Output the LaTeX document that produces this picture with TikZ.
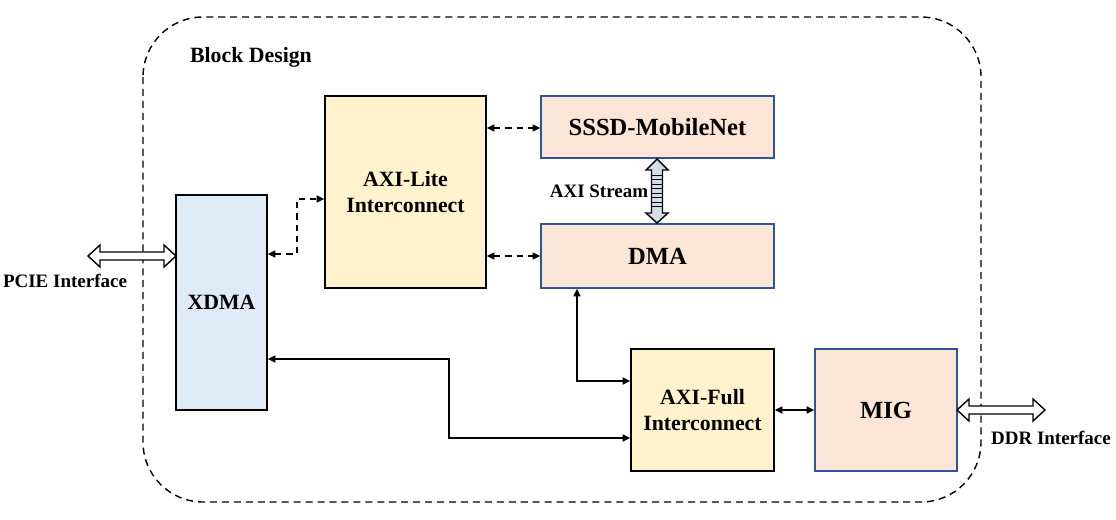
\documentclass[tikz,border=0pt]{standalone}
\usepackage{fontspec}
\setmainfont{Liberation Serif}
\usetikzlibrary{arrows.meta,calc,positioning}

\definecolor{liteyellow}{HTML}{FFF2CC}
\definecolor{peach}{HTML}{FBE5D6}
\definecolor{paleblue}{HTML}{DEEBF7}
\definecolor{edgeblue}{HTML}{2F5597}
\definecolor{streamgray}{HTML}{D6DCE5}

\begin{document}
\begin{tikzpicture}[x=0.025cm, y=-0.025cm,
    >={Triangle[length=5.5pt,width=5pt]},
    ybox/.style={draw=black, line width=1pt, fill=liteyellow, font=\bfseries\fontsize{15.5}{18}\selectfont, align=center, inner sep=0pt},
    pbox/.style={draw=edgeblue, line width=1pt, fill=peach, font=\bfseries\fontsize{17.5}{20}\selectfont, inner sep=0pt},
    bbox/.style={draw=black, line width=1pt, fill=paleblue, font=\bfseries\fontsize{15.5}{18}\selectfont, inner sep=0pt},
    lbl/.style={font=\bfseries\fontsize{13.5}{16}\selectfont, inner sep=0pt},
    dconn/.style={<->, line width=1pt, dash pattern=on 4.5pt off 3.5pt},
    sconn/.style={<->, line width=1.3pt}]
  \useasboundingbox (0,0) rectangle (1116,519);

  % Define dimensions
  \def\shaft{4}
  \def\head{11}
  \def\hlen{12}

  % Draw block design frame
  \draw[line width=1pt, dash pattern=on 5pt off 3.5pt, rounded corners=1.5cm] (143,17) rectangle (981,502);
  \node[font=\bfseries\fontsize{15.5}{18}\selectfont, inner sep=0pt] (title) at (251,57) {Block Design};

  % Draw blocks
  \node[ybox, minimum width=4.025cm, minimum height=4.8cm] (lite) at (405.5,192) {AXI-Lite\\Interconnect};
  \node[pbox, minimum width=5.825cm, minimum height=1.55cm] (sssd) at (657.5,127) {SSSD-MobileNet};
  \node[pbox, minimum width=5.825cm, minimum height=1.6cm] (dma) at (657.5,256) {DMA};
  \node[bbox, minimum width=2.275cm, minimum height=5.375cm] (xdma) at (221.5,302.5) {XDMA};
  \node[ybox, minimum width=3.575cm, minimum height=3.05cm] (full) at (702.5,410) {AXI-Full\\Interconnect};
  \node[pbox, minimum width=3.55cm, minimum height=3.05cm] (mig) at (886,410) {MIG};

  % Label interfaces
  \node[lbl] (stream) at (599,191) {AXI Stream};
  \node[lbl] (pcie) at (65,281) {PCIE Interface};
  \node[lbl] (ddr) at (1051,438) {DDR Interface};

  % Define points
  \coordinate (D1) at (297,254);
  \coordinate (D2) at (297,199);
  \coordinate (S1) at (577,381);
  \coordinate (S2) at (449,359);
  \coordinate (S3) at (449,438);

  % Draw dashed connectors
  \draw[dconn] (xdma.east |- D1) -- (D1) |- (lite.west |- D2);
  \draw[dconn] (lite.east |- 0,128) -- (sssd.west |- 0,128);
  \draw[dconn] (lite.east |- dma) -- (dma.west);

  % Draw solid connectors
  \draw[sconn] (dma.south -| S1) -- (S1) -- (full.west |- S1);
  \draw[sconn] (xdma.east |- S2) -- (S2) -- (S3) -- (full.west |- S3);
  \draw[sconn] (full.east) -- (mig.west);

  % Draw hollow interface arrows
  \draw[line width=1pt, fill=white] (88,256) -- ++(\hlen,-\head) -- ++(0,\head-\shaft) -- (176-\hlen,256-\shaft)
    -- ++(0,\shaft-\head) -- (176,256) -- ++(-\hlen,\head) -- ++(0,\shaft-\head) -- (88+\hlen,256+\shaft)
    -- ++(0,\head-\shaft) -- cycle;
  \draw[line width=1pt, fill=white] (957,410) -- ++(\hlen,-\head) -- ++(0,\head-\shaft) -- (1045-\hlen,410-\shaft)
    -- ++(0,\shaft-\head) -- (1045,410) -- ++(-\hlen,\head) -- ++(0,\shaft-\head) -- (957+\hlen,410+\shaft)
    -- ++(0,\head-\shaft) -- cycle;

  % Draw stream arrow
  \draw[line width=1pt, fill=streamgray] (657,159) -- (668,170) -- (662.5,170) -- (662.5,213) -- (668,213) -- (657,223)
    -- (646,213) -- (651.5,213) -- (651.5,170) -- (646,170) -- cycle;
  \foreach \y in {175,179.5,...,210}
      \draw[line width=0.6pt] (651.5,\y) -- (662.5,\y);
\end{tikzpicture}
\end{document}
